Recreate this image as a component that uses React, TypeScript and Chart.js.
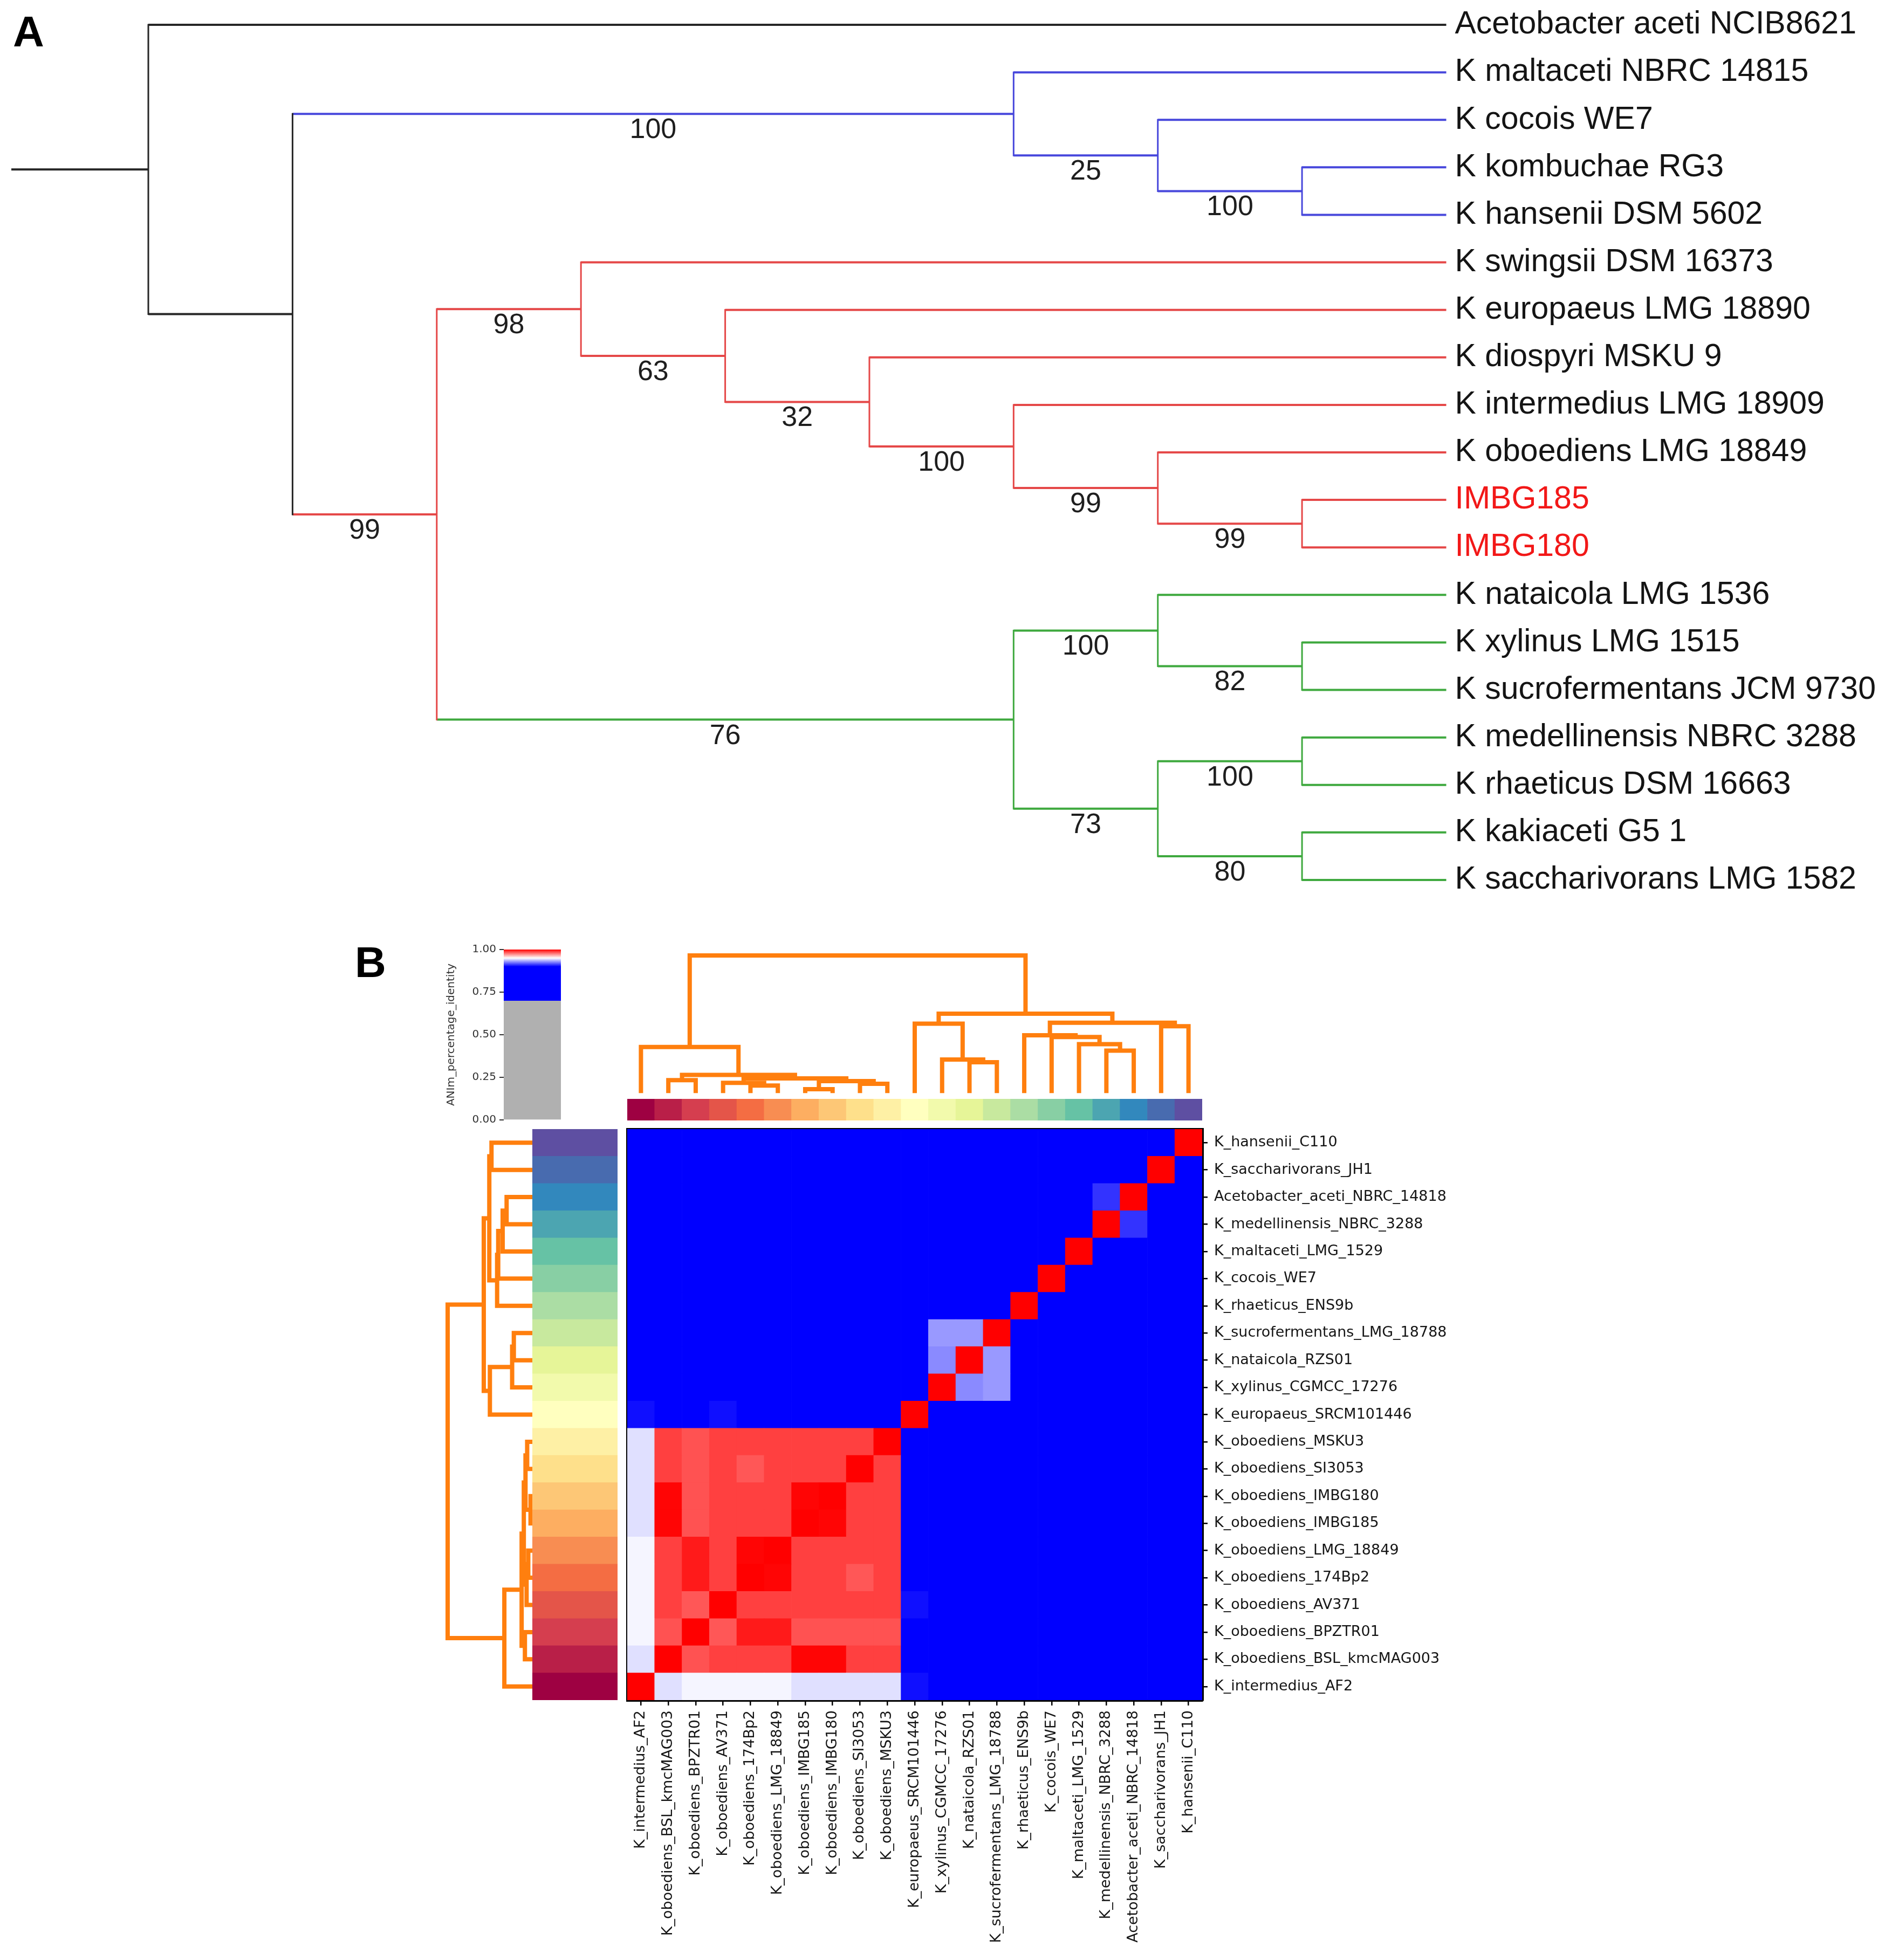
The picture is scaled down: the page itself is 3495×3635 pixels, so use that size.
import React, { useEffect, useRef } from 'react';
import { Chart, registerables } from 'chart.js';

Chart.register(...registerables);

const FONT_SANS = "'Liberation Sans', Arial, Helvetica, sans-serif";
const FONT_MPL = "'DejaVu Sans', 'Liberation Sans', sans-serif";

// ================= Panel A : phylogenetic tree =================
const TREE_LEAVES = [
  'Acetobacter aceti NCIB8621',
  'K maltaceti NBRC 14815',
  'K cocois WE7',
  'K kombuchae RG3',
  'K hansenii DSM 5602',
  'K swingsii DSM 16373',
  'K europaeus LMG 18890',
  'K diospyri MSKU 9',
  'K intermedius LMG 18909',
  'K oboediens LMG 18849',
  'IMBG185',
  'IMBG180',
  'K nataicola LMG 1536',
  'K xylinus LMG 1515',
  'K sucrofermentans JCM 9730',
  'K medellinensis NBRC 3288',
  'K rhaeticus DSM 16663',
  'K kakiaceti G5 1',
  'K saccharivorans LMG 1582',
];
const TREE_HIGHLIGHT = ['IMBG185', 'IMBG180'];
// internal nodes (ids continue after the leaves), children listed as ids
const TREE_NODES: [number, number][] = [
  [3, 4], [2, 19], [1, 20],
  [10, 11], [9, 22], [8, 23], [7, 24], [6, 25], [5, 26],
  [13, 14], [12, 28], [15, 16], [17, 18], [30, 31], [29, 32],
  [27, 33], [21, 34], [0, 35],
];
const TREE_SUPPORT: (number | null)[] = [100, 25, 100, 99, 99, 100, 32, 63, 98, 82, 100, 100, 80, 73, 76, 99, null, null];
const TREE_CLADE: (string | null)[] = [null, null, 'blue', null, null, null, null, null, null, null, null, null, null, null, 'green', 'red', null, 'black'];
const TREE_ROOT_STUB = -0.95;

const CLADE_COLORS: Record<string, string> = {
  black: '#262626',
  blue: '#4848dc',
  red: '#e54848',
  green: '#3fa93f',
};

// ================= Panel B : ANIm heatmap =================
const HEATMAP_ROWS = [
  'K_hansenii_C110',
  'K_saccharivorans_JH1',
  'Acetobacter_aceti_NBRC_14818',
  'K_medellinensis_NBRC_3288',
  'K_maltaceti_LMG_1529',
  'K_cocois_WE7',
  'K_rhaeticus_ENS9b',
  'K_sucrofermentans_LMG_18788',
  'K_nataicola_RZS01',
  'K_xylinus_CGMCC_17276',
  'K_europaeus_SRCM101446',
  'K_oboediens_MSKU3',
  'K_oboediens_SI3053',
  'K_oboediens_IMBG180',
  'K_oboediens_IMBG185',
  'K_oboediens_LMG_18849',
  'K_oboediens_174Bp2',
  'K_oboediens_AV371',
  'K_oboediens_BPZTR01',
  'K_oboediens_BSL_kmcMAG003',
  'K_intermedius_AF2',
];
const HEATMAP_COLS = [
  'K_intermedius_AF2',
  'K_oboediens_BSL_kmcMAG003',
  'K_oboediens_BPZTR01',
  'K_oboediens_AV371',
  'K_oboediens_174Bp2',
  'K_oboediens_LMG_18849',
  'K_oboediens_IMBG185',
  'K_oboediens_IMBG180',
  'K_oboediens_SI3053',
  'K_oboediens_MSKU3',
  'K_europaeus_SRCM101446',
  'K_xylinus_CGMCC_17276',
  'K_nataicola_RZS01',
  'K_sucrofermentans_LMG_18788',
  'K_rhaeticus_ENS9b',
  'K_cocois_WE7',
  'K_maltaceti_LMG_1529',
  'K_medellinensis_NBRC_3288',
  'Acetobacter_aceti_NBRC_14818',
  'K_saccharivorans_JH1',
  'K_hansenii_C110',
];

// ANIm percentage identity (rows top->bottom, columns left->right)
const B = 0.86, AC = 0.8, D = 1, F = 0.999, R = 0.9875, RR = 0.995, RL = 0.984, RLL = 0.983;
const W1 = 0.944, W2 = 0.948, LB = 0.93, LB2 = 0.927, MB = 0.91, EB = 0.903;
const ANI_MATRIX: number[][] = [
  [B, B, B, B, B, B, B, B, B, B, B, B, B, B, B, B, B, B, AC, B, D],
  [B, B, B, B, B, B, B, B, B, B, B, B, B, B, B, B, B, B, AC, D, B],
  [AC, AC, AC, AC, AC, AC, AC, AC, AC, AC, AC, AC, AC, AC, AC, AC, AC, MB, D, AC, AC],
  [B, B, B, B, B, B, B, B, B, B, B, B, B, B, B, B, B, D, MB, B, B],
  [B, B, B, B, B, B, B, B, B, B, B, B, B, B, B, B, D, B, AC, B, B],
  [B, B, B, B, B, B, B, B, B, B, B, B, B, B, B, D, B, B, AC, B, B],
  [B, B, B, B, B, B, B, B, B, B, B, B, B, B, D, B, B, B, AC, B, B],
  [B, B, B, B, B, B, B, B, B, B, B, LB, LB, D, B, B, B, B, AC, B, B],
  [B, B, B, B, B, B, B, B, B, B, B, LB2, D, LB, B, B, B, B, AC, B, B],
  [B, B, B, B, B, B, B, B, B, B, B, D, LB2, LB, B, B, B, B, AC, B, B],
  [EB, B, B, EB, B, B, B, B, B, B, D, B, B, B, B, B, B, B, AC, B, B],
  [W1, R, RL, R, R, R, R, R, R, D, B, B, B, B, B, B, B, B, AC, B, B],
  [W1, R, RL, R, RLL, R, R, R, D, R, B, B, B, B, B, B, B, B, AC, B, B],
  [W1, F, RL, R, R, R, F, D, R, R, B, B, B, B, B, B, B, B, AC, B, B],
  [W1, F, RL, R, R, R, D, F, R, R, B, B, B, B, B, B, B, B, AC, B, B],
  [W2, R, RR, R, F, D, R, R, R, R, B, B, B, B, B, B, B, B, AC, B, B],
  [W2, R, RR, R, D, F, R, R, RLL, R, B, B, B, B, B, B, B, B, AC, B, B],
  [W2, R, RLL, D, R, R, R, R, R, R, EB, B, B, B, B, B, B, B, AC, B, B],
  [W2, RL, D, RLL, RR, RR, RL, RL, RL, RL, B, B, B, B, B, B, B, B, AC, B, B],
  [W1, D, RL, R, R, R, F, F, R, R, B, B, B, B, B, B, B, B, AC, B, B],
  [D, W1, W2, W2, W2, W2, W1, W1, W1, W1, EB, B, B, B, B, B, B, B, AC, B, B],
];

// average-linkage merges on column indices: [left, right, height (fraction of root)]
const DENDRO_MERGES: [number, number, number][] = [
  [6, 7, 0.013],
  [4, 5, 0.04],
  [8, 9, 0.053],
  [3, 22, 0.06],
  [21, 23, 0.073],
  [1, 2, 0.08],
  [24, 25, 0.093],
  [26, 27, 0.119],
  [12, 13, 0.212],
  [11, 29, 0.232],
  [17, 18, 0.298],
  [0, 28, 0.325],
  [16, 31, 0.345],
  [15, 33, 0.398],
  [14, 34, 0.411],
  [19, 20, 0.478],
  [10, 30, 0.497],
  [35, 36, 0.504],
  [37, 38, 0.57],
  [32, 39, 1.0],
];

// genome label colours (Spectral), in column order
const LABEL_COLORS = [
  '#9e0142', '#b91f48', '#d53e4f', '#e45549', '#f46d43', '#f88d52', '#fdae61',
  '#fdc776', '#fee08b', '#fef0a5', '#ffffbf', '#f2faac', '#e6f598', '#c8e99e',
  '#abdda4', '#88cfa4', '#66c2a5', '#4ca5b1', '#3288bd', '#486baf', '#5e4fa2',
];

const CMAP_STOPS = [0, 0.6999, 0.7, 0.9, 0.95, 1.0];
const CMAP_COLORS = ['#b0b0b0', '#b0b0b0', '#0000ff', '#0000ff', '#ffffff', '#ff0000'];
const CBAR_TICKS = [0, 0.25, 0.5, 0.75, 1];
const CBAR_TITLE = 'ANIm_percentage_identity';
const DENDRO_COLOR = '#ff7f0e';

// ---------------- helpers ----------------
function hexToRgb(h: string) {
  const n = parseInt(h.slice(1), 16);
  return [(n >> 16) & 255, (n >> 8) & 255, n & 255];
}
function cmap(v: number) {
  if (v <= CMAP_STOPS[0]) return CMAP_COLORS[0];
  for (let i = 0; i < CMAP_STOPS.length - 1; i++) {
    const a = CMAP_STOPS[i], b = CMAP_STOPS[i + 1];
    if (v >= a && v <= b) {
      const t = b === a ? 0 : (v - a) / (b - a);
      const ca = hexToRgb(CMAP_COLORS[i]), cb = hexToRgb(CMAP_COLORS[i + 1]);
      const c = ca.map((x, k) => Math.round(x + (cb[k] - x) * t));
      return `rgb(${c[0]},${c[1]},${c[2]})`;
    }
  }
  return CMAP_COLORS[CMAP_COLORS.length - 1];
}

// tree layout (cladogram: leaves aligned, nodes at mean of children)
function layoutTree() {
  const NL = TREE_LEAVES.length;
  const total = NL + TREE_NODES.length;
  const ys: number[] = [], hs: number[] = [], parent: number[] = new Array(total).fill(-1);
  for (let i = 0; i < NL; i++) { ys[i] = i; hs[i] = 0; }
  TREE_NODES.forEach(([a, b], k) => {
    const id = NL + k;
    ys[id] = (ys[a] + ys[b]) / 2;
    hs[id] = 1 + Math.max(hs[a], hs[b]);
    parent[a] = id; parent[b] = id;
  });
  const rootId = total - 1;
  const H = hs[rootId];
  const xs = hs.map((h) => H - h);
  const col: string[] = new Array(total);
  for (let id = rootId; id >= NL; id--) {
    const k = id - NL;
    col[id] = TREE_CLADE[k] ?? col[parent[id]];
  }
  for (let i = 0; i < NL; i++) col[i] = col[parent[i]];
  return { NL, total, ys, xs, parent, col, rootId, H };
}
const TL = layoutTree();

function treeDatasets() {
  const horiz: Record<string, any[]> = {}, vert: Record<string, any[]> = {};
  const add = (store: Record<string, any[]>, key: string, p: number[][]) => {
    (store[key] = store[key] || []).push({ x: p[0][0], y: p[0][1] }, { x: p[1][0], y: p[1][1] }, { x: NaN, y: NaN });
  };
  for (let id = 0; id < TL.total; id++) {
    const x0 = id === TL.rootId ? TREE_ROOT_STUB : TL.xs[TL.parent[id]];
    add(horiz, TL.col[id], [[x0, TL.ys[id]], [TL.xs[id], TL.ys[id]]]);
  }
  TREE_NODES.forEach(([a, b], k) => {
    const id = TL.NL + k;
    add(vert, TL.col[id], [[TL.xs[id], TL.ys[a]], [TL.xs[id], TL.ys[b]]]);
  });
  const ds: any[] = [];
  Object.keys(vert).forEach((k) => ds.push({ data: vert[k], borderColor: CLADE_COLORS[k], borderWidth: 3, showLine: true, pointRadius: 0, clip: false, borderCapStyle: 'square' }));
  Object.keys(horiz).forEach((k) => ds.push({ data: horiz[k], borderColor: CLADE_COLORS[k], borderWidth: 4, showLine: true, pointRadius: 0, clip: false, borderCapStyle: 'butt' }));
  return ds;
}

const supportPlugin = {
  id: 'supportLabels',
  afterDatasetsDraw(chart: any) {
    const { ctx, scales } = chart;
    ctx.save();
    ctx.font = `52px ${FONT_SANS}`;
    ctx.fillStyle = '#1e1e1e';
    ctx.textAlign = 'center';
    ctx.textBaseline = 'alphabetic';
    TREE_NODES.forEach((_, k) => {
      const s = TREE_SUPPORT[k];
      if (s == null) return;
      const id = TL.NL + k;
      const px = scales.x.getPixelForValue((TL.xs[TL.parent[id]] + TL.xs[id]) / 2);
      const py = scales.y.getPixelForValue(TL.ys[id]) + 45;
      ctx.fillText(String(s), px, py);
    });
    ctx.restore();
  },
};

function dendroPoints(orient: 'col' | 'row') {
  const n = HEATMAP_COLS.length;
  const pos: number[] = [], hts: number[] = [];
  for (let c = 0; c < n; c++) { pos.push(orient === 'col' ? c : n - 1 - c); hts.push(0); }
  const pts: any[] = [];
  const P = (p: number, h: number) => (orient === 'col' ? { x: p, y: h } : { x: h, y: p });
  DENDRO_MERGES.forEach(([a, b, h]) => {
    pts.push(P(pos[a], hts[a]), P(pos[a], h), P(pos[b], h), P(pos[b], hts[b]), { x: NaN, y: NaN });
    pos.push((pos[a] + pos[b]) / 2);
    hts.push(h);
  });
  return pts;
}

const zeroPad = (s: any) => { s.paddingTop = 0; s.paddingBottom = 0; s.paddingLeft = 0; s.paddingRight = 0; };
const baseOpts = {
  responsive: false,
  animation: false,
  events: [],
  plugins: { legend: { display: false }, tooltip: { enabled: false }, title: { display: false } },
};

// ---------------- chart configs ----------------
function treeConfig(): any {
  return {
    type: 'scatter',
    data: { datasets: treeDatasets() },
    options: {
      ...baseOpts,
      layout: { padding: { left: 21, top: 2, right: 0, bottom: 24 } },
      scales: {
        x: { type: 'linear', display: false, min: TREE_ROOT_STUB, max: TL.H },
        y: {
          type: 'linear', position: 'right', reverse: true, min: -0.5, max: TREE_LEAVES.length - 0.5,
          afterBuildTicks: (s: any) => { s.ticks = TREE_LEAVES.map((_, i) => ({ value: i })); },
          afterFit: (s: any) => { s.width = 813.5; zeroPad(s); },
          grid: { display: false, drawTicks: false },
          border: { display: false },
          ticks: {
            autoSkip: false, padding: 16,
            font: { family: FONT_SANS, size: 59 },
            color: (ctx: any) => (TREE_HIGHLIGHT.includes(TREE_LEAVES[ctx.index]) ? '#f21818' : '#141414'),
            callback: (_v: any, i: number) => TREE_LEAVES[i],
          },
        },
      },
    },
    plugins: [supportPlugin],
  };
}

function colorbarConfig(): any {
  return {
    type: 'bar',
    data: {
      labels: [CBAR_TITLE],
      datasets: [{
        data: [[0, 1]],
        borderWidth: 0, barPercentage: 1, categoryPercentage: 1,
        backgroundColor: (ctx: any) => {
          const chart = ctx.chart;
          const ys = chart.scales && chart.scales.y;
          if (!chart.chartArea || !ys) return CMAP_COLORS[0];
          const g = chart.ctx.createLinearGradient(0, ys.getPixelForValue(0), 0, ys.getPixelForValue(1));
          CMAP_STOPS.forEach((s, i) => g.addColorStop(s, CMAP_COLORS[i]));
          return g;
        },
      }],
    },
    options: {
      ...baseOpts,
      layout: { padding: { left: 0, top: 30, right: 5, bottom: 30 } },
      scales: {
        x: { display: false },
        y: {
          min: 0, max: 1, position: 'left',
          afterBuildTicks: (s: any) => { s.ticks = CBAR_TICKS.map((v) => ({ value: v })); },
          afterFit: (s: any) => { s.width = 113; zeroPad(s); },
          ticks: { callback: (v: any) => Number(v).toFixed(2), font: { family: FONT_MPL, size: 20 }, color: '#333', padding: 6 },
          grid: { display: true, drawOnChartArea: false, tickLength: 8, color: '#333', lineWidth: 2 },
          border: { display: false },
          title: { display: true, text: CBAR_TITLE, font: { family: FONT_MPL, size: 20 }, color: '#333', padding: 4 },
        },
      },
    },
  };
}

function colDendroConfig(): any {
  return {
    type: 'scatter',
    data: { datasets: [{ data: dendroPoints('col'), borderColor: DENDRO_COLOR, borderWidth: 8, showLine: true, pointRadius: 0, clip: false, borderCapStyle: 'square', borderJoinStyle: 'miter' }] },
    options: {
      ...baseOpts,
      layout: { padding: { left: 20, top: 20, right: 20, bottom: 20.7 } },
      scales: {
        x: { type: 'linear', display: false, min: -0.5, max: HEATMAP_COLS.length - 0.5 },
        y: { type: 'linear', display: false, min: 0, max: 1 },
      },
    },
  };
}

function rowDendroConfig(): any {
  return {
    type: 'scatter',
    data: { datasets: [{ data: dendroPoints('row'), borderColor: DENDRO_COLOR, borderWidth: 8, showLine: true, pointRadius: 0, clip: false, borderCapStyle: 'square', borderJoinStyle: 'miter' }] },
    options: {
      ...baseOpts,
      layout: { padding: { left: 20, top: 20, right: 20.3, bottom: 20 } },
      scales: {
        x: { type: 'linear', display: false, min: 0, max: 1, reverse: true },
        y: { type: 'linear', display: false, min: -0.5, max: HEATMAP_ROWS.length - 0.5, reverse: true },
      },
    },
  };
}

function colStripConfig(): any {
  return {
    type: 'bar',
    data: {
      labels: HEATMAP_COLS,
      datasets: [{ data: HEATMAP_COLS.map(() => 1), backgroundColor: HEATMAP_COLS.map((g) => LABEL_COLORS[HEATMAP_COLS.indexOf(g)]), borderWidth: 0, barPercentage: 1, categoryPercentage: 1 }],
    },
    options: { ...baseOpts, layout: { padding: 0 }, scales: { x: { display: false }, y: { display: false, min: 0, max: 1 } } },
  };
}

function rowStripConfig(): any {
  return {
    type: 'bar',
    data: {
      labels: HEATMAP_ROWS,
      datasets: [{ data: HEATMAP_ROWS.map(() => 1), backgroundColor: HEATMAP_ROWS.map((g) => LABEL_COLORS[HEATMAP_COLS.indexOf(g)]), borderWidth: 0, barPercentage: 1, categoryPercentage: 1 }],
    },
    options: { ...baseOpts, indexAxis: 'y', layout: { padding: 0 }, scales: { y: { display: false }, x: { display: false, min: 0, max: 1 } } },
  };
}

function heatmapConfig(): any {
  const n = HEATMAP_ROWS.length;
  const datasets = HEATMAP_ROWS.map((_, k) => {
    const r = n - 1 - k;
    return {
      label: HEATMAP_ROWS[r],
      data: HEATMAP_COLS.map(() => 1),
      backgroundColor: ANI_MATRIX[r].map(cmap),
      borderWidth: 0, barPercentage: 1, categoryPercentage: 1,
    };
  });
  const tickFont = { family: FONT_MPL, size: 27 };
  const frameAxis = (pos: string) => ({
    type: 'linear', position: pos, display: true,
    grid: { display: false, drawTicks: false }, ticks: { display: false },
    border: { display: true, color: '#000', width: 5 },
    afterFit: (s: any) => { if (pos === 'top') s.height = 0; else s.width = 0; zeroPad(s); },
    z: 2,
  });
  return {
    type: 'bar',
    data: { labels: HEATMAP_COLS, datasets },
    options: {
      ...baseOpts,
      layout: { padding: { left: 10, top: 10, right: 0, bottom: 0 } },
      scales: {
        x: {
          type: 'category', stacked: true, position: 'bottom', offset: true,
          grid: { display: true, offset: false, drawOnChartArea: false, drawTicks: true, tickLength: 10, color: '#000', lineWidth: 2.5 },
          border: { display: true, color: '#000', width: 5 },
          ticks: { autoSkip: false, minRotation: 90, maxRotation: 90, padding: 9, font: tickFont, color: '#151515' },
          afterFit: (s: any) => { s.height = 460; zeroPad(s); },
          z: 2,
        },
        y: {
          type: 'linear', stacked: true, position: 'right', min: 0, max: n,
          afterBuildTicks: (s: any) => { s.ticks = HEATMAP_ROWS.map((_, r) => ({ value: n - r - 0.5 })); },
          afterFit: (s: any) => { s.width = 470; zeroPad(s); },
          grid: { display: true, drawOnChartArea: false, drawTicks: true, tickLength: 10, color: '#000', lineWidth: 2.5 },
          border: { display: true, color: '#000', width: 5 },
          ticks: { autoSkip: false, padding: 12, font: tickFont, color: '#151515', callback: (_v: any, i: number) => HEATMAP_ROWS[i] },
          z: 2,
        },
        xTop: frameAxis('top'),
        yLeft: frameAxis('left'),
      },
    },
  };
}

// ---------------- components ----------------
function ChartCanvas({ left, top, width, height, make }: { left: number; top: number; width: number; height: number; make: () => any }) {
  const ref = useRef<HTMLCanvasElement | null>(null);
  useEffect(() => {
    if (!ref.current) return;
    const chart = new Chart(ref.current, make());
    return () => chart.destroy();
  }, []);
  return (
    <canvas
      ref={ref}
      width={width}
      height={height}
      style={{ position: 'absolute', left, top, width, height, display: 'block' }}
    />
  );
}

const letterStyle = (left: number, top: number): React.CSSProperties => ({
  position: 'absolute', left, top, fontFamily: FONT_SANS, fontWeight: 'bold', fontSize: 80, lineHeight: '80px', color: '#000', margin: 0,
});

export default function App() {
  return (
    <div style={{ position: 'absolute', left: 0, top: 0, width: 3495, height: 3635, background: '#fff', overflow: 'hidden' }}>
      <div style={letterStyle(24, 18.6)}>A</div>
      <div style={letterStyle(658, 1745)}>B</div>
      <ChartCanvas left={0} top={0} width={3495} height={1700} make={treeConfig} />
      <ChartCanvas left={821} top={1731} width={224} height={376} make={colorbarConfig} />
      <ChartCanvas left={1143} top={1752} width={1106} height={292} make={colDendroConfig} />
      <ChartCanvas left={1163} top={2038} width={1066} height={40} make={colStripConfig} />
      <ChartCanvas left={810} top={2074} width={196} height={1099} make={rowDendroConfig} />
      <ChartCanvas left={987} top={2094} width={158} height={1059} make={rowStripConfig} />
      <ChartCanvas left={1153} top={2084} width={1546} height={1529} make={heatmapConfig} />
    </div>
  );
}
